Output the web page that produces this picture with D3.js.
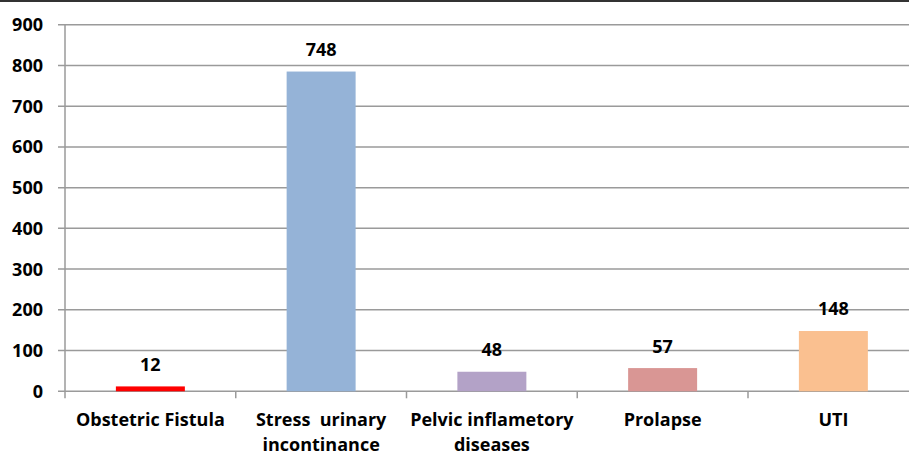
<!DOCTYPE html>
<html>
<head>
<meta charset="utf-8">
<script src="https://cdn.jsdelivr.net/npm/d3@7/dist/d3.min.js"></script>
<style>
  html, body { margin: 0; padding: 0; background: #fff; }
  svg { display: block; }
  text { font-family: "Open Sans", "Liberation Sans", sans-serif; font-weight: 700; fill: #000; }
</style>
</head>
<body>
<svg id="chart" width="909" height="455"></svg>
<script>
// Data
const categories = ["Obstetric Fistula", "Stress  urinary incontinance", "Pelvic inflametory diseases", "Prolapse", "UTI"];
const categoryLines = [["Obstetric Fistula"], ["Stress  urinary", "incontinance"], ["Pelvic inflametory", "diseases"], ["Prolapse"], ["UTI"]];
const barValues = [12, 785, 48, 57, 148];      // bar heights as drawn
const valueLabels = ["12", "748", "48", "57", "148"]; // data labels as printed
const barColors = ["#FF0000", "#95B3D7", "#B3A2C7", "#D99694", "#FAC090"];
const yTicks = [0, 100, 200, 300, 400, 500, 600, 700, 800, 900];

(function () {
const svg = d3.select("#chart");
const W = 909, H = 455;
const mLeft = 65, mRight = 918.75, mTop = 24.7, mBottom = 391.3;
const fs = 18;

const x = d3.scaleBand().domain(categories).range([mLeft, mRight]).paddingInner(0).paddingOuter(0);
const y = d3.scaleLinear().domain([0, 900]).range([mBottom, mTop]);

// top dark border
svg.append("line").attr("x1", 0).attr("x2", W).attr("y1", 1).attr("y2", 1)
  .attr("stroke", "#333").attr("stroke-width", 2);

// gridlines
svg.append("g").selectAll("line").data(yTicks).join("line")
  .attr("x1", mLeft - 7).attr("x2", W)
  .attr("y1", d => y(d)).attr("y2", d => y(d))
  .attr("stroke", "#9a9a9a").attr("stroke-width", 1.5);

// y axis line
svg.append("line").attr("x1", mLeft).attr("x2", mLeft).attr("y1", mTop).attr("y2", mBottom + 7)
  .attr("stroke", "#9a9a9a").attr("stroke-width", 1.5);

// category tick marks
const catEdges = categories.map(c => x(c)).concat([x(categories[categories.length - 1]) + x.bandwidth()]);
svg.append("g").selectAll("line").data(catEdges.slice(1)).join("line")
  .attr("x1", d => d).attr("x2", d => d).attr("y1", mBottom).attr("y2", mBottom + 7)
  .attr("stroke", "#9a9a9a").attr("stroke-width", 1.5);

// y tick labels
svg.append("g").selectAll("text").data(yTicks).join("text")
  .attr("x", 43).attr("y", d => y(d)).attr("dy", "0.36em")
  .attr("text-anchor", "end").attr("font-size", fs).text(d => d);

// bars
const barW = x.bandwidth() * 0.404;
svg.append("g").selectAll("rect").data(categories).join("rect")
  .attr("x", (c) => x(c) + (x.bandwidth() - barW) / 2)
  .attr("width", barW)
  .attr("y", (c, i) => y(barValues[i]))
  .attr("height", (c, i) => y(0) - y(barValues[i]))
  .attr("fill", (c, i) => barColors[i]);

// value labels
svg.append("g").selectAll("text").data(categories).join("text")
  .attr("x", c => x(c) + x.bandwidth() / 2)
  .attr("y", (c, i) => y(barValues[i]) - 22).attr("dy", "0.36em")
  .attr("text-anchor", "middle").attr("font-size", fs)
  .text((c, i) => valueLabels[i]);

// category labels
const cat = svg.append("g").selectAll("text").data(categories).join("text")
  .attr("x", c => x(c) + x.bandwidth() / 2)
  .attr("y", 420)
  .attr("text-anchor", "middle").attr("font-size", fs);
cat.selectAll("tspan").data((c, i) => categoryLines[i]).join("tspan")
  .attr("x", function () { return d3.select(this.parentNode).attr("x"); })
  .attr("dy", (d, j) => j === 0 ? "0.36em" : "1.38em")
  .style("white-space", "pre")
  .text(d => d);
})();
</script>
</body>
</html>
